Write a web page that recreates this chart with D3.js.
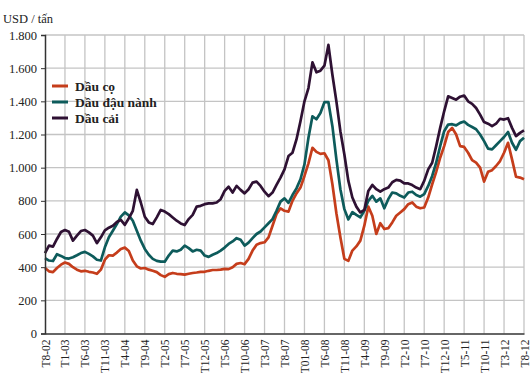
<!DOCTYPE html>
<html><head><meta charset="utf-8">
<script src="https://cdn.jsdelivr.net/npm/d3@7"></script>
<style>
html,body{margin:0;padding:0;background:#fff;}
svg{display:block;}
svg text{font-family:"Liberation Serif","Times New Roman",serif !important;}
</style></head>
<body>
<svg id="c" width="530" height="390"></svg>
<script>
// Monthly data, T8-02 (Aug 2002) .. T8-12 (Aug 2012), USD / tấn
const tickLabels = ["T8-02","T1-03","T6-03","T11-03","T4-04","T9-04","T2-05","T7-05","T12-05","T5-06","T10-06","T3-07","T8-07","T01-08","T6-08","T11-08","T4-09","T9-09","T2-10","T7-10","T12-10","T5-11","T10-11","T3-12","T8-12"];
const yTicks = [0,200,400,600,800,1000,1200,1400,1600,1800];
const seriesNames = ["Dầu cọ","Dầu đậu nành","Dầu cải"];

const palm = [395,375,370,395,415,428,420,400,385,375,378,372,368,360,385,445,472,470,488,510,
518,498,440,405,392,395,385,378,370,352,342,358,365,360,358,355,360,365,368,372,
372,378,383,383,385,390,388,400,420,425,418,450,500,535,545,550,580,650,720,755,
740,735,800,845,880,950,1026,1120,1095,1083,1087,1045,900,725,580,450,438,500,525,560,
650,765,710,600,665,630,635,670,710,730,750,780,790,765,755,760,820,900,975,1060,
1130,1215,1240,1200,1130,1125,1090,1045,1030,1000,916,975,985,1010,1040,1090,1150,1050,945,940,
930];
const soy = [455,440,437,478,468,455,452,460,472,485,492,480,465,445,440,520,580,620,660,705,
730,712,680,620,560,510,475,450,438,433,433,470,500,495,505,530,515,495,505,500,
470,462,475,485,500,518,540,555,575,565,530,548,575,600,615,640,665,690,740,795,
815,788,835,875,930,1020,1180,1310,1292,1330,1395,1395,1250,1050,870,750,688,732,715,700,
740,800,830,795,815,755,810,850,845,830,820,850,855,835,825,840,890,950,1030,1130,
1220,1260,1262,1255,1270,1278,1258,1245,1232,1200,1160,1115,1110,1135,1160,1185,1215,1150,1108,1160,
1180];
const rapeseed = [484,530,524,570,612,624,614,560,590,618,624,610,590,545,580,622,638,650,672,685,
655,695,740,866,790,704,670,660,700,745,735,720,700,680,664,654,690,715,765,770,
780,785,785,790,810,860,885,850,890,866,845,870,910,916,890,855,828,850,896,940,
990,1070,1090,1170,1280,1400,1480,1635,1575,1585,1615,1740,1560,1400,1220,1080,920,820,765,730,
745,860,896,870,855,870,880,912,926,922,905,905,895,880,870,920,990,1030,1130,1240,
1340,1430,1420,1410,1428,1435,1400,1385,1360,1320,1275,1265,1250,1265,1295,1290,1298,1240,1190,1210,
1225];
const colors = ["#c53d1b","#0d5b5b","#2e1133"];

const svg = d3.select("#c");
const x = d3.scaleLinear().domain([0,120]).range([45,524]);
const y = d3.scaleLinear().domain([0,1800]).range([333.5,35]);

// grid
const g = svg.append("g");
g.selectAll("line.h").data(yTicks.filter(v=>v>0)).enter().append("line")
  .attr("x1",x(0)).attr("x2",x(120)).attr("y1",d=>y(d)).attr("y2",d=>y(d))
  .attr("stroke","#c4c4c4").attr("stroke-width",1.3);
g.selectAll("line.v").data(tickLabels.map((d,i)=>i*5).filter(v=>v>0)).enter().append("line")
  .attr("x1",d=>x(d)).attr("x2",d=>x(d)).attr("y1",y(0)).attr("y2",y(1800))
  .attr("stroke","#c4c4c4").attr("stroke-width",1.3);

// lines
const line = d3.line().x((d,i)=>x(i)).y(d=>y(d)).curve(d3.curveLinear);
[palm,soy,rapeseed].forEach((s,k)=>{
  svg.append("path").datum(s).attr("d",line).attr("fill","none")
    .attr("stroke",colors[k]).attr("stroke-width",2.7).attr("stroke-linejoin","round");
});

// axes
const yAxis = d3.axisLeft(y).tickValues(yTicks).tickSize(4)
  .tickFormat(d=>d3.format(",")(d).replace(/,/g,"."));
const ya = svg.append("g").attr("transform",`translate(${x(0)},0)`).call(yAxis);
ya.select(".domain").attr("stroke","#333").attr("stroke-width",1.5);
ya.selectAll(".tick line").attr("stroke","#333");
ya.selectAll("text").attr("font-size",12.5).attr("fill","#222").attr("dx",-1);

const xAxis = d3.axisBottom(x).tickValues(tickLabels.map((d,i)=>i*5)).tickSize(0)
  .tickFormat((d,i)=>tickLabels[i]);
const xa = svg.append("g").attr("transform",`translate(0,${y(0)})`).call(xAxis);
xa.select(".domain").attr("stroke","#333").attr("stroke-width",1.5);
xa.selectAll("text").attr("font-size",11.5).attr("fill","#222")
  .attr("transform","rotate(-90)").attr("text-anchor","end")
  .attr("x",-6).attr("y",0).attr("dy","0.35em");

// unit label
svg.append("text").attr("x",3).attr("y",23).attr("font-size",12.5).attr("fill","#222")
  .text("USD / tấn");

// legend
const lg = svg.append("g");
seriesNames.forEach((n,k)=>{
  const yy = 86 + k*16;
  lg.append("line").attr("x1",52).attr("x2",68).attr("y1",yy).attr("y2",yy)
    .attr("stroke",colors[k]).attr("stroke-width",3);
  lg.append("text").attr("x",75).attr("y",yy+4.5).attr("font-size",13.5).attr("font-weight","bold")
    .attr("fill","#222").text(n);
});
</script>
</body></html>
